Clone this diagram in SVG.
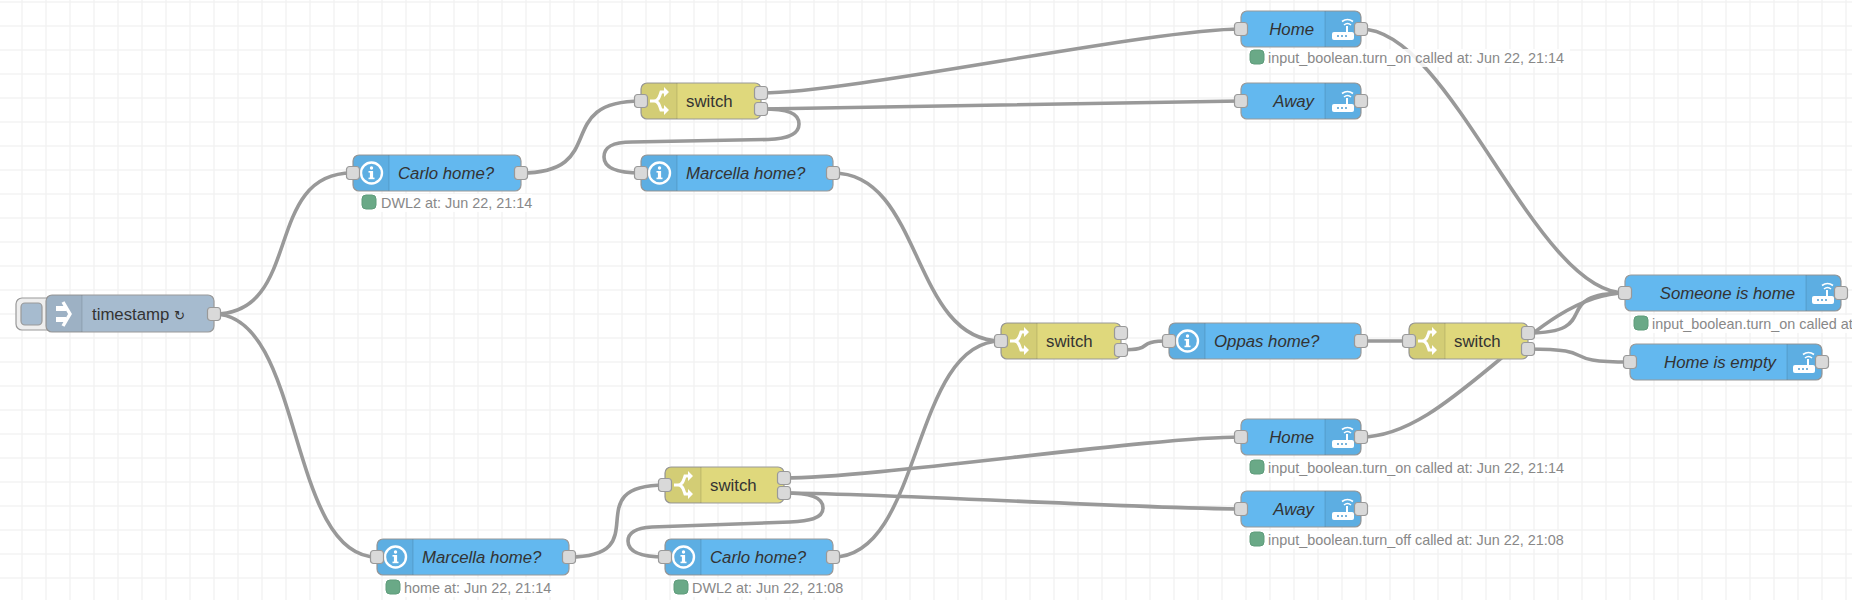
<svg xmlns="http://www.w3.org/2000/svg" width="1852" height="600" viewBox="0 0 1852 600">
<style>
.body{stroke:#999;stroke-width:1.2}
.blue{fill:#63b8ef}.yellow{fill:#dfd87c}.slate{fill:#a6bbcf}
.shade{fill:#000;fill-opacity:.05}
.div{stroke:#000;stroke-opacity:.1;stroke-width:1.2}
.port{fill:#d9d9d9;stroke:#999;stroke-width:1.2}
.lbl{font:16.8px "Liberation Sans",Arial,sans-serif;fill:#333}
.it{font-style:italic}
.st{font:14.4px "Liberation Sans",Arial,sans-serif;fill:#888}
.dot{fill:#6aa987;stroke:#5f9c7b;stroke-width:1}
.stbg{fill:#fff;fill-opacity:.85}
.wires path{fill:none;stroke:#999;stroke-width:3.6}
</style>
<defs>
<pattern id="grid" width="24" height="24" patternUnits="userSpaceOnUse" x="10" y="-10">
<path d="M12 0V24M0 12H24" stroke="#f3f3f3" stroke-width="1.5" fill="none"/>
</pattern>
<g id="info"><circle r="10.5" fill="none" stroke="#fff" stroke-width="2.4"/><circle cy="-5" r="1.7" fill="#fff"/><rect x="-1.6" y="-2" width="3.2" height="8" fill="#fff"/><rect x="-3" y="-2" width="3" height="1.6" fill="#fff"/><rect x="-3" y="4.6" width="6" height="1.6" fill="#fff"/></g>
<g id="router"><rect x="-11" y="3" width="22" height="8" rx="2" fill="#fff"/><rect x="3" y="-3" width="2" height="7" fill="#fff"/><circle cx="-5" cy="7" r="1" fill="#4c9bd0"/><circle cx="-1" cy="7" r="1" fill="#4c9bd0"/><circle cx="3" cy="7" r="1" fill="#4c9bd0"/><path d="M1 -4Q4.500 -7 8 -4M-1 -7.500Q4.500 -11.500 10 -7.500" fill="none" stroke="#fff" stroke-width="1.6"/></g>
<g id="fork"><path d="M-9 0H-5C-1 0 0 -3 1 -6L2 -9H6M-5 0C-1 0 0 3 1 6L2 9H6" fill="none" stroke="#fff" stroke-width="3"/><path d="M5 -14L10 -9L5 -4ZM5 4L10 9L5 14Z" fill="#fff"/></g>
<rect id="p" x="-6.500" y="-6.500" width="13" height="13" rx="3" class="port"/>
</defs>
<rect width="1852" height="600" fill="#fff"/>
<rect width="1852" height="600" fill="url(#grid)"/>
<g class="wires" id="wires">
<path d="M214 314C304 314 262 173 352 173"/>
<path d="M214 314C304 314 287 557 377 557"/>
<path d="M521 173C611 173 551 101 641 101"/>
<path d="M761 93C851 93 1151 29 1241 29"/>
<path d="M761 109C851 109 1151 101 1241 101"/>
<path d="M761 109C788 109 799 113 799 124C799 136 784 139 768 139.500L632 142C612 142 604 147 604 157C604 168 618 173 641 173"/>
<path d="M833 173C923 173 911 341 1001 341"/>
<path d="M569 557C659 557 575 485 665 485"/>
<path d="M784 478C874 478 1151 437 1241 437"/>
<path d="M784 493C874 493 1151 509 1241 509"/>
<path d="M784 493C810 493 823 497 823 508C823 519 808 521 790 522L652 527C636 528 628 532 628 541C628 551 640 557 665 557"/>
<path d="M833 557C923 557 911 341 1001 341"/>
<path d="M1121 350C1158 350 1132 341 1169 341"/>
<path d="M1361 341H1409"/>
<path d="M1528 333C1606 333 1547 293 1625 293"/>
<path d="M1528 349C1605 349 1553 362 1630 362"/>
<path d="M1361 29C1451 29 1535 293 1625 293"/>
<path d="M1361 437C1451 437 1535 293 1625 293"/>
</g>
<g id="timestamp">
<rect x="16" y="298" width="40" height="32" rx="6" fill="#eee" stroke="#999" stroke-width="1.2"/>
<rect x="21" y="303" width="21" height="22" rx="4" class="slate" stroke="#999" stroke-width="1.2"/>
<rect x="46" y="295" width="168" height="37" rx="6" class="slate body"/>
<path d="M52 295H82V332H52a6 6 0 0 1-6-6V301a6 6 0 0 1 6-6Z" class="shade"/>
<path d="M82 295V332" class="div"/>
<path d="M56 306H66V311H56ZM56 317H66V322H56Z" fill="#fff"/>
<path d="M63 302L70 314L63 326" fill="none" stroke="#fff" stroke-width="3.400"/>
<text x="92" y="320" class="lbl">timestamp <tspan style="font-family:'DejaVu Sans',sans-serif;font-size:13px">↻</tspan></text>
<use href="#p" x="214" y="314"/>
</g>
<g id="carlo-top">
<rect x="353" y="155" width="168" height="36" rx="6" class="blue body"/>
<path d="M359 155H389V191H359a6 6 0 0 1-6-6V161a6 6 0 0 1 6-6Z" class="shade"/>
<path d="M389 155V191" class="div"/>
<use href="#info" x="371.500" y="173"/>
<text x="398" y="179" class="lbl it">Carlo home?</text>
<use href="#p" x="353" y="173"/><use href="#p" x="521" y="173"/>
<rect x="360" y="194" width="172" height="18" class="stbg"/>
<rect x="362" y="195" width="14" height="14" rx="4" class="dot"/>
<text x="381" y="208" class="st">DWL2 at: Jun 22, 21:14</text>
</g>
<g id="switch-1">
<rect x="641" y="83" width="120" height="36" rx="6" class="yellow body"/>
<path d="M647 83H677V119H647a6 6 0 0 1-6-6V89a6 6 0 0 1 6-6Z" class="shade"/>
<path d="M677 83V119" class="div"/>
<use href="#fork" x="659" y="101"/>
<text x="686" y="107" class="lbl">switch</text>
<use href="#p" x="641" y="101"/><use href="#p" x="761" y="93"/><use href="#p" x="761" y="109"/>
</g>
<g id="marcella-top">
<rect x="641" y="155" width="192" height="36" rx="6" class="blue body"/>
<path d="M647 155H677V191H647a6 6 0 0 1-6-6V161a6 6 0 0 1 6-6Z" class="shade"/>
<path d="M677 155V191" class="div"/>
<use href="#info" x="659.500" y="173"/>
<text x="686" y="179" class="lbl it">Marcella home?</text>
<use href="#p" x="641" y="173"/><use href="#p" x="833" y="173"/>
</g>
<g id="home-top">
<rect x="1241" y="11" width="120" height="36" rx="6" class="blue body"/>
<path d="M1355 11H1325V47H1355a6 6 0 0 0 6-6V17a6 6 0 0 0-6-6Z" class="shade"/>
<path d="M1325 11V47" class="div"/>
<use href="#router" x="1343" y="29"/>
<text x="1314" y="35" class="lbl it" text-anchor="end">Home</text>
<use href="#p" x="1241" y="29"/><use href="#p" x="1361" y="29"/>
<rect x="1248" y="49" width="322" height="18" class="stbg"/>
<rect x="1250" y="50" width="14" height="14" rx="4" class="dot"/>
<text x="1268" y="63" class="st">input_boolean.turn_on called at: Jun 22, 21:14</text>
</g>
<g id="away-top">
<rect x="1241" y="83" width="120" height="36" rx="6" class="blue body"/>
<path d="M1355 83H1325V119H1355a6 6 0 0 0 6-6V89a6 6 0 0 0-6-6Z" class="shade"/>
<path d="M1325 83V119" class="div"/>
<use href="#router" x="1343" y="101"/>
<text x="1314" y="107" class="lbl it" text-anchor="end">Away</text>
<use href="#p" x="1241" y="101"/><use href="#p" x="1361" y="101"/>
</g>
<g id="switch-2">
<rect x="1001" y="323" width="120" height="36" rx="6" class="yellow body"/>
<path d="M1007 323H1037V359H1007a6 6 0 0 1-6-6V329a6 6 0 0 1 6-6Z" class="shade"/>
<path d="M1037 323V359" class="div"/>
<use href="#fork" x="1019" y="341"/>
<text x="1046" y="347" class="lbl">switch</text>
<use href="#p" x="1001" y="341"/><use href="#p" x="1121" y="333"/><use href="#p" x="1121" y="350"/>
</g>
<g id="oppas">
<rect x="1169" y="323" width="192" height="36" rx="6" class="blue body"/>
<path d="M1175 323H1205V359H1175a6 6 0 0 1-6-6V329a6 6 0 0 1 6-6Z" class="shade"/>
<path d="M1205 323V359" class="div"/>
<use href="#info" x="1187.500" y="341"/>
<text x="1214" y="347" class="lbl it">Oppas home?</text>
<use href="#p" x="1169" y="341"/><use href="#p" x="1361" y="341"/>
</g>
<g id="switch-4">
<rect x="1409" y="323" width="119" height="36" rx="6" class="yellow body"/>
<path d="M1415 323H1445V359H1415a6 6 0 0 1-6-6V329a6 6 0 0 1 6-6Z" class="shade"/>
<path d="M1445 323V359" class="div"/>
<use href="#fork" x="1427" y="341"/>
<text x="1454" y="347" class="lbl">switch</text>
<use href="#p" x="1409" y="341"/><use href="#p" x="1528" y="333"/><use href="#p" x="1528" y="349"/>
</g>
<g id="someone">
<rect x="1625" y="275" width="216" height="36" rx="6" class="blue body"/>
<path d="M1835 275H1806V311H1835a6 6 0 0 0 6-6V281a6 6 0 0 0-6-6Z" class="shade"/>
<path d="M1806 275V311" class="div"/>
<use href="#router" x="1823" y="293"/>
<text x="1795" y="299" class="lbl it" text-anchor="end">Someone is home</text>
<use href="#p" x="1625" y="293"/><use href="#p" x="1841" y="293"/>
<rect x="1632" y="315" width="220" height="18" class="stbg"/>
<rect x="1634" y="316" width="14" height="14" rx="4" class="dot"/>
<text x="1652" y="329" class="st">input_boolean.turn_on called at</text>
</g>
<g id="empty">
<rect x="1630" y="344" width="192" height="36" rx="6" class="blue body"/>
<path d="M1816 344H1787V380H1816a6 6 0 0 0 6-6V350a6 6 0 0 0-6-6Z" class="shade"/>
<path d="M1787 344V380" class="div"/>
<use href="#router" x="1804" y="362"/>
<text x="1776" y="368" class="lbl it" text-anchor="end">Home is empty</text>
<use href="#p" x="1630" y="362"/><use href="#p" x="1822" y="362"/>
</g>
<g id="home-bottom">
<rect x="1241" y="419" width="120" height="36" rx="6" class="blue body"/>
<path d="M1355 419H1325V455H1355a6 6 0 0 0 6-6V425a6 6 0 0 0-6-6Z" class="shade"/>
<path d="M1325 419V455" class="div"/>
<use href="#router" x="1343" y="437"/>
<text x="1314" y="443" class="lbl it" text-anchor="end">Home</text>
<use href="#p" x="1241" y="437"/><use href="#p" x="1361" y="437"/>
<rect x="1248" y="459" width="322" height="18" class="stbg"/>
<rect x="1250" y="460" width="14" height="14" rx="4" class="dot"/>
<text x="1268" y="473" class="st">input_boolean.turn_on called at: Jun 22, 21:14</text>
</g>
<g id="away-bottom">
<rect x="1241" y="491" width="120" height="36" rx="6" class="blue body"/>
<path d="M1355 491H1325V527H1355a6 6 0 0 0 6-6V497a6 6 0 0 0-6-6Z" class="shade"/>
<path d="M1325 491V527" class="div"/>
<use href="#router" x="1343" y="509"/>
<text x="1314" y="515" class="lbl it" text-anchor="end">Away</text>
<use href="#p" x="1241" y="509"/><use href="#p" x="1361" y="509"/>
<rect x="1248" y="531" width="322" height="18" class="stbg"/>
<rect x="1250" y="532" width="14" height="14" rx="4" class="dot"/>
<text x="1268" y="545" class="st">input_boolean.turn_off called at: Jun 22, 21:08</text>
</g>
<g id="switch-3">
<rect x="665" y="467" width="119" height="36" rx="6" class="yellow body"/>
<path d="M671 467H701V503H671a6 6 0 0 1-6-6V473a6 6 0 0 1 6-6Z" class="shade"/>
<path d="M701 467V503" class="div"/>
<use href="#fork" x="683" y="485"/>
<text x="710" y="491" class="lbl">switch</text>
<use href="#p" x="665" y="485"/><use href="#p" x="784" y="478"/><use href="#p" x="784" y="493"/>
</g>
<g id="marcella-bottom">
<rect x="377" y="539" width="192" height="36" rx="6" class="blue body"/>
<path d="M383 539H413V575H383a6 6 0 0 1-6-6V545a6 6 0 0 1 6-6Z" class="shade"/>
<path d="M413 539V575" class="div"/>
<use href="#info" x="395.500" y="557"/>
<text x="422" y="563" class="lbl it">Marcella home?</text>
<use href="#p" x="377" y="557"/><use href="#p" x="569" y="557"/>
<rect x="384" y="579" width="170" height="18" class="stbg"/>
<rect x="386" y="580" width="14" height="14" rx="4" class="dot"/>
<text x="404" y="593" class="st">home at: Jun 22, 21:14</text>
</g>
<g id="carlo-bottom">
<rect x="665" y="539" width="168" height="36" rx="6" class="blue body"/>
<path d="M671 539H701V575H671a6 6 0 0 1-6-6V545a6 6 0 0 1 6-6Z" class="shade"/>
<path d="M701 539V575" class="div"/>
<use href="#info" x="683.500" y="557"/>
<text x="710" y="563" class="lbl it">Carlo home?</text>
<use href="#p" x="665" y="557"/><use href="#p" x="833" y="557"/>
<rect x="672" y="579" width="172" height="18" class="stbg"/>
<rect x="674" y="580" width="14" height="14" rx="4" class="dot"/>
<text x="692" y="593" class="st">DWL2 at: Jun 22, 21:08</text>
</g>
</svg>
